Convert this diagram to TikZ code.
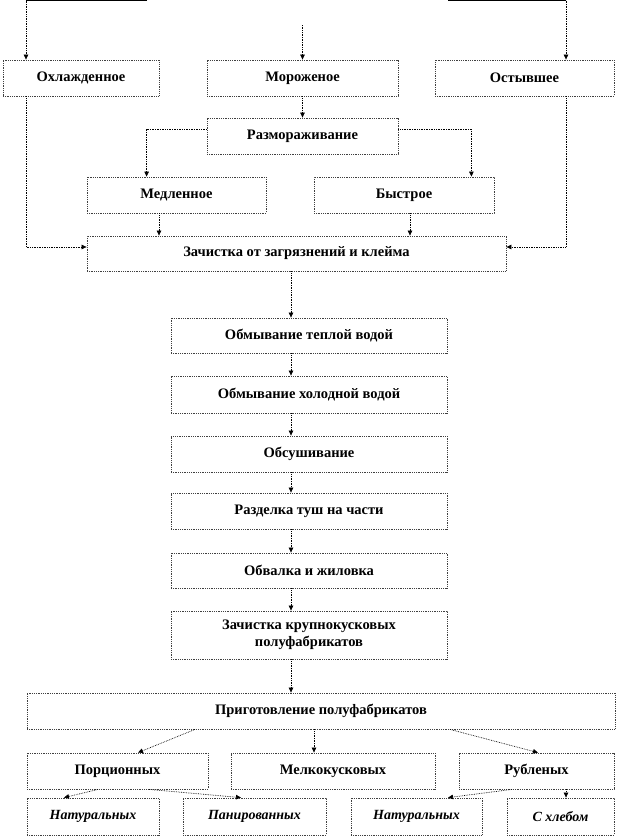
\documentclass[tikz,border=0pt]{standalone}
\usepackage{fontspec}
\setmainfont{Liberation Serif}
\usetikzlibrary{arrows.meta}
\begin{document}
\begin{tikzpicture}[x=1pt,y=-1pt,
  box/.style={draw=black!75, densely dotted, line width=0.8pt, inner sep=1pt,
    font=\fontsize{14.5}{17}\selectfont\bfseries, align=center, fill=white},
  ibox/.style={box, font=\fontsize{14}{16}\selectfont\bfseries\itshape},
  arr/.style={draw=black, densely dotted, line width=0.7pt, -{Triangle[length=5pt,width=4.5pt]}},
  lin/.style={draw=black, line width=0.8pt}]
\useasboundingbox (0,0) rectangle (630,838);
\node[box, minimum width=156pt, minimum height=36pt] (ohl) at (81,78) {Охлажденное};
\node[box, minimum width=191pt, minimum height=36pt] (mor) at (302.5,78) {Мороженое};
\node[box, minimum width=179pt, minimum height=36pt] (ost) at (524.5,78) {Остывшее};
\node[box, minimum width=191pt, minimum height=36pt] (raz) at (302.5,136) {Размораживание};
\node[box, minimum width=179pt, minimum height=36pt] (med) at (176.5,195) {Медленное};
\node[box, minimum width=180pt, minimum height=36pt] (bys) at (404,195) {Быстрое};
\node[box, minimum width=419pt, minimum height=35pt] (zach) at (296.5,253.5) {Зачистка от загрязнений и клейма};
\node[box, minimum width=276pt, minimum height=35pt] (c1) at (309,335.5) {Обмывание теплой водой};
\node[box, minimum width=276pt, minimum height=37pt] (c2) at (309,394.5) {Обмывание холодной водой};
\node[box, minimum width=276pt, minimum height=36pt] (c3) at (309,454) {Обсушивание};
\node[box, minimum width=276pt, minimum height=36pt] (c4) at (309,511) {Разделка туш  на части};
\node[box, minimum width=276pt, minimum height=35pt] (c5) at (309,570.5) {Обвалка и жиловка};
\node[box, minimum width=276pt, minimum height=48pt] (c6) at (309,635) {Зачистка крупнокусковых\\полуфабрикатов};
\node[box, minimum width=588pt, minimum height=36pt] (prig) at (321,711) {Приготовление полуфабрикатов};
\node[box, minimum width=181pt, minimum height=36pt] (por) at (117.5,771) {Порционных};
\node[box, minimum width=204pt, minimum height=36pt] (mel) at (333,771) {Мелкокусковых};
\node[box, minimum width=155pt, minimum height=36pt] (rub) at (536.5,771) {Рубленых};
\node[ibox, minimum width=132pt, minimum height=37pt] (n1) at (93,816.5) {Натуральных};
\node[ibox, minimum width=143pt, minimum height=37pt] (pan) at (254.5,816.5) {Панированных};
\node[ibox, minimum width=131pt, minimum height=37pt] (n2) at (416.5,816.5) {Натуральных};
\node[ibox, minimum width=107pt, minimum height=37pt] (shl) at (560.5,816.5) {С хлебом};
% top feeds
\coordinate (tl1) at (147,0.5);
\coordinate (tl2) at (26,0.5);
\coordinate (tr1) at (448,0.5);
\coordinate (tr2) at (566,0.5);
\coordinate (tm) at (302.5,25);
\draw[lin] (tl1) -- (tl2);
\draw[lin] (tr1) -- (tr2);
\draw[arr] (tl2) -- (tl2 |- ohl.north);
\draw[arr] (tr2) -- (tr2 |- ost.north);
\draw[arr] (tm) -- (mor.north);
\draw[arr] (mor.south) -- (raz.north);
\draw[arr] ([yshift=7pt]raz.west) -| ([xshift=60pt]med.north west);
\draw[arr] ([yshift=7pt]raz.east) -| ([xshift=-23pt]bys.north east);
\draw[arr] ([xshift=-17.5pt]med.south) -- ([xshift=-17.5pt]med.south |- zach.north);
\draw[arr] ([xshift=6pt]bys.south) -- ([xshift=6pt]bys.south |- zach.north);
\draw[arr] ([xshift=-55pt]ohl.south) |- ([yshift=6.5pt]zach.west);
\draw[arr] ([xshift=41.5pt]ost.south) |- ([yshift=6.5pt]zach.east);
\draw[arr] ([xshift=-5.5pt]zach.south) -- ([xshift=-5.5pt]zach.south |- c1.north);
\foreach \a/\b in {c1/c2,c2/c3,c3/c4,c4/c5,c5/c6,c6/prig}
  \draw[arr] ([xshift=-18pt]\a.south) -- ([xshift=-18pt]\a.south |- \b.north);
\draw[arr] ([xshift=-126pt]prig.south) -- ([xshift=20.5pt]por.north);
\draw[arr] ([xshift=-7pt]prig.south) -- ([xshift=-7pt]prig.south |- mel.north);
\draw[arr] ([xshift=129pt]prig.south) -- ([xshift=1.5pt]rub.north);
\draw[arr] ([xshift=-19.5pt]por.south) -- ([xshift=-29pt]n1.north);
\draw[arr] ([xshift=31.5pt]por.south) -- ([xshift=-13.5pt]pan.north);
\draw[arr] ([xshift=-24.5pt]rub.south) -- ([xshift=31.5pt]n2.north);
\draw[arr] ([xshift=29.5pt]rub.south) -- ([xshift=29.5pt]rub.south |- shl.north);
\end{tikzpicture}
\end{document}
